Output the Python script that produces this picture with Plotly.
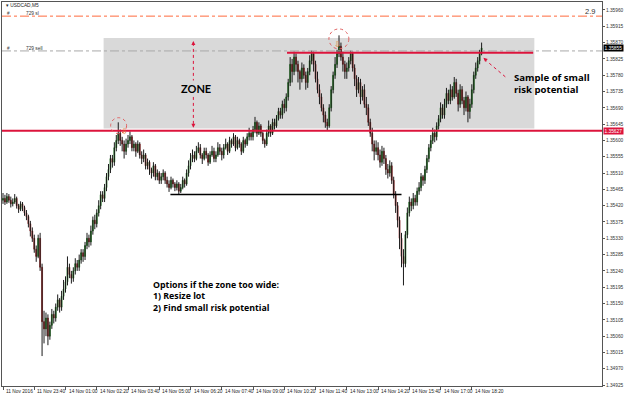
import plotly.graph_objects as go

# ---------------- data (prices in points, 1 point = 0.00001) ----------------
first_open = 135435
closes = [
    135440, 135430, 135445, 135435, 135425, 135430, 135440, 135420, 135410, 135425, 135415, 135400, 135390, 135370, 135350, 135330,
    135300, 135280, 135330, 135250, 135100, 135080, 135110, 135060, 135090, 135120, 135110, 135140, 135160, 135140, 135170, 135190,
    135210, 135250, 135230, 135220, 135240, 135260, 135250, 135270, 135290, 135280, 135310, 135330, 135320, 135350, 135380, 135370,
    135400, 135420, 135450, 135440, 135470, 135500, 135520, 135550, 135540, 135580, 135600, 135620, 135600, 135590, 135570, 135590,
    135600, 135610, 135580, 135590, 135570, 135590, 135560, 135550, 135560, 135530, 135540, 135520, 135510, 135530, 135500, 135510,
    135490, 135500, 135510, 135490, 135480, 135470, 135490, 135480, 135470, 135480, 135460, 135470, 135490, 135480, 135510, 135530,
    135550, 135560, 135550, 135570, 135580, 135560, 135550, 135570, 135560, 135540, 135560, 135570, 135550, 135560, 135580, 135570,
    135560, 135580, 135590, 135570, 135600, 135590, 135610, 135580, 135600, 135590, 135570, 135600, 135590, 135610, 135620, 135610,
    135630, 135650, 135620, 135640, 135620, 135600, 135590, 135620, 135640, 135620, 135650, 135640, 135660, 135680, 135670, 135700,
    135690, 135720, 135760, 135810, 135790, 135830, 135810, 135790, 135770, 135800, 135780, 135760, 135790, 135820, 135840, 135810,
    135770, 135740, 135720, 135690, 135670, 135650, 135640, 135690, 135740, 135780, 135810, 135840, 135860, 135830, 135810, 135790,
    135800, 135820, 135840, 135800, 135770, 135740, 135760, 135720, 135740, 135700, 135690, 135650, 135620, 135590, 135570, 135580,
    135560, 135540, 135570, 135550, 135520, 135510, 135530, 135490, 135450, 135420, 135380, 135330, 135280, 135260, 135340, 135400,
    135430, 135420, 135440, 135430, 135460, 135470, 135500, 135490, 135520, 135550, 135580, 135600, 135620, 135610, 135640, 135660,
    135690, 135670, 135700, 135730, 135710, 135740, 135720, 135760, 135730, 135700, 135740, 135710, 135690, 135720, 135680, 135700,
    135740, 135780, 135800, 135820, 135840, 135855,
]
highs = [
    135455, 135450, 135455, 135452, 135445, 135440, 135452, 135445, 135425, 135432, 135430, 135420, 135408, 135395, 135378, 135360,
    135340, 135310, 135340, 135345, 135260, 135130, 135125, 135120, 135100, 135135, 135130, 135150, 135175, 135165, 135185, 135215,
    135225, 135280, 135260, 135240, 135250, 135275, 135270, 135285, 135300, 135300, 135320, 135345, 135340, 135365, 135390, 135395,
    135410, 135435, 135460, 135460, 135480, 135510, 135535, 135560, 135560, 135595, 135615, 135650, 135630, 135610, 135600, 135605,
    135615, 135625, 135615, 135600, 135595, 135600, 135595, 135570, 135575, 135565, 135550, 135545, 135525, 135540, 135535, 135520,
    135515, 135510, 135520, 135515, 135500, 135490, 135500, 135495, 135485, 135490, 135485, 135480, 135500, 135495, 135520, 135545,
    135565, 135575, 135570, 135585, 135595, 135590, 135565, 135580, 135580, 135565, 135570, 135585, 135580, 135570, 135595, 135590,
    135580, 135590, 135605, 135595, 135610, 135605, 135620, 135615, 135610, 135605, 135595, 135610, 135605, 135620, 135635, 135625,
    135640, 135665, 135655, 135650, 135645, 135625, 135605, 135630, 135655, 135645, 135660, 135660, 135670, 135690, 135690, 135710,
    135715, 135730, 135770, 135830, 135825, 135845, 135840, 135820, 135795, 135815, 135810, 135790, 135800, 135835, 135848, 135845,
    135820, 135790, 135755, 135730, 135700, 135680, 135660, 135700, 135750, 135790, 135830, 135850, 135890, 135870, 135845, 135820,
    135815, 135830, 135848, 135845, 135810, 135780, 135775, 135770, 135750, 135755, 135720, 135700, 135660, 135635, 135600, 135600,
    135595, 135575, 135585, 135580, 135560, 135535, 135545, 135540, 135500, 135460, 135430, 135390, 135345, 135300, 135350, 135415,
    135445, 135440, 135455, 135450, 135470, 135485, 135510, 135505, 135530, 135560, 135590, 135615, 135635, 135630, 135650, 135670,
    135705, 135700, 135715, 135745, 135740, 135755, 135750, 135775, 135770, 135740, 135755, 135750, 135720, 135735, 135725, 135715,
    135755, 135790, 135815, 135830, 135850, 135870,
]
lows = [
    135425, 135422, 135425, 135428, 135415, 135418, 135425, 135412, 135400, 135405, 135405, 135392, 135380, 135360, 135335, 135320,
    135290, 135265, 135275, 135240, 135005, 135040, 135060, 135035, 135050, 135080, 135095, 135100, 135130, 135125, 135130, 135160,
    135180, 135200, 135220, 135205, 135210, 135230, 135240, 135240, 135260, 135265, 135270, 135300, 135305, 135310, 135340, 135355,
    135360, 135390, 135410, 135430, 135430, 135460, 135490, 135510, 135525, 135530, 135570, 135590, 135585, 135570, 135550, 135560,
    135580, 135590, 135570, 135570, 135555, 135565, 135550, 135535, 135540, 135520, 135520, 135505, 135495, 135500, 135490, 135490,
    135480, 135480, 135490, 135480, 135470, 135458, 135465, 135470, 135460, 135462, 135452, 135455, 135465, 135470, 135475, 135500,
    135520, 135540, 135540, 135545, 135565, 135550, 135535, 135545, 135550, 135530, 135535, 135555, 135540, 135540, 135555, 135560,
    135545, 135550, 135575, 135560, 135565, 135580, 135585, 135570, 135575, 135580, 135560, 135565, 135580, 135585, 135600, 135600,
    135600, 135620, 135610, 135615, 135610, 135590, 135580, 135585, 135610, 135610, 135615, 135630, 135635, 135655, 135660, 135660,
    135675, 135680, 135710, 135750, 135760, 135780, 135790, 135760, 135740, 135760, 135770, 135740, 135745, 135780, 135810, 135790,
    135760, 135730, 135700, 135680, 135650, 135635, 135628, 135635, 135680, 135730, 135770, 135800, 135830, 135820, 135790, 135770,
    135770, 135790, 135810, 135790, 135750, 135720, 135730, 135700, 135710, 135690, 135670, 135640, 135610, 135570, 135545, 135560,
    135545, 135525, 135530, 135535, 135505, 135495, 135500, 135480, 135440, 135400, 135360, 135300, 135250, 135200, 135250, 135330,
    135390, 135405, 135410, 135420, 135420, 135450, 135460, 135475, 135480, 135510, 135540, 135570, 135590, 135595, 135600, 135630,
    135650, 135660, 135660, 135690, 135700, 135700, 135710, 135715, 135720, 135680, 135690, 135700, 135670, 135680, 135650, 135660,
    135690, 135730, 135770, 135790, 135810, 135835,
]

time_labels = ["11 Nov 2016", "11 Nov 23:40", "14 Nov 01:00", "14 Nov 02:20", "14 Nov 03:40",
               "14 Nov 05:00", "14 Nov 06:20", "14 Nov 07:40", "14 Nov 09:00", "14 Nov 10:20",
               "14 Nov 11:40", "14 Nov 13:00", "14 Nov 14:20", "14 Nov 15:40", "14 Nov 17:00",
               "14 Nov 18:20"]
label_bars = [0, 16, 32, 48, 64, 80, 96, 112, 128, 144, 160, 176, 192, 208, 224, 240]

price_ticks = [1.34925, 1.34970, 1.35015, 1.35060, 1.35105, 1.35150, 1.35195, 1.35240,
               1.35285, 1.35330, 1.35375, 1.35420, 1.35465, 1.35510, 1.35555, 1.35600,
               1.35645, 1.35690, 1.35735, 1.35780, 1.35825, 1.35870, 1.35915, 1.35960]

zone_top, zone_bottom = 1.35883, 1.35633
zone_bar_start, zone_bar_end = 51.5, 272.0
support_level = 1.35627
resistance_level = 1.35842
resistance_bar_start, resistance_bar_end = 145.4, 271.4
swing_low_level = 1.35451
swing_bar_start, swing_bar_end = 85.7, 204.0
sl_level = 1.35943
sell_level = 1.35847

# ---------------- build ----------------
PT = 1e-5
n = len(closes)
xs = list(range(n))
c = [v * PT for v in closes]
o = [first_open * PT] + c[:-1]
h = [max(hh * PT, oo, cc) for hh, oo, cc in zip(highs, o, c)]
l = [min(ll * PT, oo, cc) for ll, oo, cc in zip(lows, o, c)]

W, H = 625, 397
ML, MR, MT, MB = 1, 22, 1, 11
PW, PH = W - ML - MR, H - MT - MB
BAR_PX = 1.96


def px(xp):
    return (xp - ML) / PW


def py(yp):
    return 1 - (yp - MT) / PH


fig = go.Figure()
# black wicks
wx, wy = [], []
for i in xs:
    wx += [i, i, None]
    wy += [l[i], h[i], None]
fig.add_trace(go.Scatter(x=wx, y=wy, mode="lines", line=dict(color="#1a1a1a", width=1),
                         hoverinfo="skip", showlegend=False))
# coloured bodies
fig.add_trace(go.Candlestick(
    x=xs, open=o, high=[max(a, b) for a, b in zip(o, c)], low=[min(a, b) for a, b in zip(o, c)], close=c,
    increasing=dict(line=dict(color="#0f6a0f", width=0.6), fillcolor="#128a12"),
    decreasing=dict(line=dict(color="#8a1010", width=0.6), fillcolor="#b01818"),
    whiskerwidth=0, showlegend=False, hoverinfo="skip",
))

RED = "#dc143c"
shapes = [
    dict(type="rect", xref="x", yref="y", x0=zone_bar_start, x1=zone_bar_end, y0=zone_bottom, y1=zone_top,
         fillcolor="#d9d9d9", line=dict(width=0), layer="below"),
    dict(type="line", xref="paper", yref="y", x0=0, x1=1, y0=sl_level, y1=sl_level,
         line=dict(color="#ff6a3d", width=1, dash="dashdot")),
    dict(type="line", xref="paper", yref="y", x0=0, x1=1, y0=sell_level, y1=sell_level,
         line=dict(color="#a8a8a8", width=1, dash="dashdot")),
    dict(type="line", xref="paper", yref="y", x0=0, x1=1, y0=support_level, y1=support_level,
         line=dict(color=RED, width=2)),
    dict(type="line", xref="x", yref="y", x0=resistance_bar_start, x1=resistance_bar_end,
         y0=resistance_level, y1=resistance_level, line=dict(color=RED, width=2)),
    dict(type="line", xref="x", yref="y", x0=swing_bar_start, x1=swing_bar_end,
         y0=swing_low_level, y1=swing_low_level, line=dict(color="black", width=1.5)),
    dict(type="line", xref="paper", yref="paper", x0=px(193), x1=px(193), y0=py(42), y1=py(125),
         line=dict(color=RED, width=1, dash="dot")),
    dict(type="circle", xref="paper", yref="paper", x0=px(110), x1=px(126), y0=py(117), y1=py(133),
         line=dict(color="#e06060", width=1, dash="dot")),
    dict(type="circle", xref="paper", yref="paper", x0=px(329), x1=px(349), y0=py(28), y1=py(48),
         line=dict(color="#e06060", width=1, dash="dot")),
    dict(type="line", xref="paper", yref="paper", x0=px(506), x1=px(487), y0=py(76), y1=py(60),
         line=dict(color=RED, width=1, dash="dot")),
]

SMALL = "Liberation Sans"
BOLD = "Open Sans"
ann = []
for b, t in zip(label_bars, time_labels):
    ann.append(dict(x=b, xref="x", y=0, yref="paper", text=t, showarrow=False, xanchor="left",
                    yanchor="top", xshift=1, yshift=-1, font=dict(family=SMALL, size=4.8, color="#222")))
ann += [
    dict(x=px(3), y=py(5), xref="paper", yref="paper", text="▾ USDCAD,M5", showarrow=False,
         xanchor="left", yanchor="middle", font=dict(family=SMALL, size=4.8, color="#222")),
    dict(x=px(4), y=py(13), xref="paper", yref="paper", text="#", showarrow=False,
         xanchor="left", yanchor="middle", font=dict(family=SMALL, size=4.6, color="#444")),
    dict(x=px(23), y=py(13), xref="paper", yref="paper", text="729 sl", showarrow=False,
         xanchor="left", yanchor="middle", font=dict(family=SMALL, size=4.8, color="#333")),
    dict(x=px(4), y=py(48), xref="paper", yref="paper", text="#", showarrow=False,
         xanchor="left", yanchor="middle", font=dict(family=SMALL, size=4.6, color="#444")),
    dict(x=px(23), y=py(48), xref="paper", yref="paper", text="729 sell", showarrow=False,
         xanchor="left", yanchor="middle", font=dict(family=SMALL, size=4.8, color="#333")),
    dict(x=px(598), y=py(11), xref="paper", yref="paper", text="2.9", showarrow=False,
         xanchor="right", yanchor="middle", font=dict(family=SMALL, size=7.5, color="#333")),
    dict(x=1, xref="paper", y=c[-1], yref="y", text=f"{c[-1]:.5f}", showarrow=False, xanchor="left",
         yanchor="middle", xshift=1, bgcolor="black", borderpad=0.5,
         font=dict(family=SMALL, size=4.8, color="white")),
    dict(x=1, xref="paper", y=support_level, yref="y", text=f"{support_level:.5f}", showarrow=False,
         xanchor="left", yanchor="middle", xshift=1, bgcolor=RED, borderpad=0.5,
         font=dict(family=SMALL, size=4.8, color="white")),
    dict(x=px(196), y=py(88), xref="paper", yref="paper", text="<b>ZONE</b>", showarrow=False,
         xanchor="center", yanchor="middle", bgcolor="#d9d9d9", borderpad=1,
         font=dict(family="Lato", size=11, color="black")),
    dict(x=px(513), y=py(83), xref="paper", yref="paper",
         text="<b>Sample of small<br>risk potential</b>", showarrow=False, align="left",
         xanchor="left", yanchor="middle", font=dict(family=BOLD, size=9.6, color="black")),
    dict(x=px(150), y=py(296), xref="paper", yref="paper",
         text="<b>Options if the zone too wide:<br>1) Resize lot<br>2) Find small risk potential</b>",
         showarrow=False, align="left", xanchor="left", yanchor="middle",
         font=dict(family=BOLD, size=8.8, color="black")),
    dict(x=px(118), y=py(124), xref="paper", yref="paper", text="⇩", showarrow=False,
         font=dict(family="DejaVu Sans", size=8, color="#e07a20")),
    dict(x=px(338), y=py(37), xref="paper", yref="paper", text="⇩", showarrow=False,
         font=dict(family="DejaVu Sans", size=8, color="#e07a20")),
    dict(x=px(193), y=py(40), xref="paper", yref="paper", text="", showarrow=True, ax=0, ay=4,
         arrowhead=2, arrowsize=0.8, arrowwidth=1, arrowcolor=RED),
    dict(x=px(193), y=py(127), xref="paper", yref="paper", text="", showarrow=True, ax=0, ay=-4,
         arrowhead=2, arrowsize=0.8, arrowwidth=1, arrowcolor=RED),
    dict(x=px(484), y=py(57), xref="paper", yref="paper", text="", showarrow=True, ax=4, ay=3.4,
         arrowhead=2, arrowsize=0.8, arrowwidth=1, arrowcolor=RED),
]

x_lo = -(2 - ML) / BAR_PX
fig.update_layout(
    width=W, height=H, margin=dict(l=ML, r=MR, t=MT, b=MB),
    paper_bgcolor="white", plot_bgcolor="white",
    shapes=shapes, annotations=ann, showlegend=False,
    xaxis=dict(range=[x_lo, x_lo + PW / BAR_PX], rangeslider=dict(visible=False),
               showgrid=False, zeroline=False, showline=True, linecolor="#555", linewidth=1, mirror=True,
               ticks="outside", ticklen=3, tickcolor="#555", tickvals=label_bars, showticklabels=False),
    yaxis=dict(side="right", range=[1.35960 - (386 - 9) * 0.00045 / 16.35, 1.35960 + (9 - MT) * 0.00045 / 16.35],
               showgrid=False, zeroline=False, showline=True, linecolor="#555", linewidth=1, mirror=True,
               ticks="outside", ticklen=2, tickcolor="#555", tickvals=price_ticks,
               ticktext=[f"{p:.5f}" for p in price_ticks],
               tickfont=dict(family=SMALL, size=4.8, color="#333")),
)

fig.write_html("out.html")
